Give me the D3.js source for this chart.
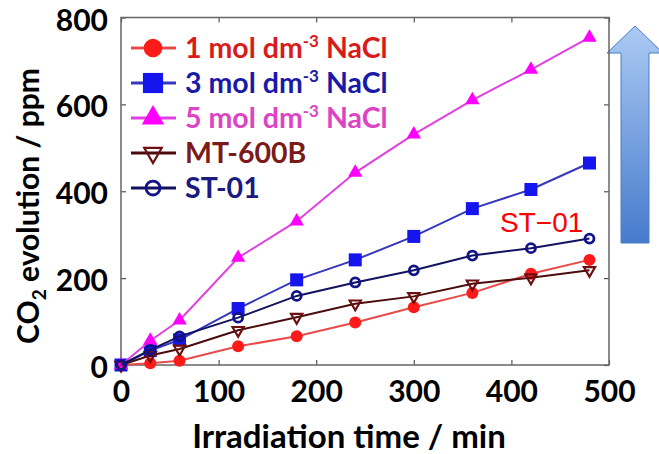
<!DOCTYPE html>
<html>
<head>
<meta charset="utf-8">
<script src="https://cdn.jsdelivr.net/npm/d3@7"></script>
<style>
  body { margin: 0; background: #fff; }
  text { font-family: Lato, "Open Sans", sans-serif; }
</style>
</head>
<body>
<div id="chart"></div>
<script>

// data
var times = [0, 30, 60, 120, 180, 240, 300, 360, 420, 480];
var nacl1 = [0, 4, 10, 43, 66, 98, 133, 166, 210, 242];
var nacl3 = [0, 33, 58, 130, 196, 242, 296, 360, 404, 465];
var nacl5 = [0, 56, 103, 247, 331, 443, 531, 610, 680, 754];
var mt600b = [0, 22, 37, 80, 110, 141, 158, 187, 201, 218];
var st01 = [0, 35, 66, 109, 159, 190, 218, 252, 269, 291];
var xTicks = [0, 100, 200, 300, 400, 500];
var yTicks = [0, 200, 400, 600, 800];

var series = [
    { name: "1 mol dm", sup: "-3", tail: " NaCl", values: nacl1, line: "#e84a4a", fill: "#ff1a1a", text: "#d81c1c", shape: "circle" },
    { name: "3 mol dm", sup: "-3", tail: " NaCl", values: nacl3, line: "#3636c0", fill: "#1515ee", text: "#1a1aa8", shape: "square" },
    { name: "5 mol dm", sup: "-3", tail: " NaCl", values: nacl5, line: "#e040e0", fill: "#ff00ff", text: "#dc44c4", shape: "triangle" },
    { name: "MT-600B", sup: "", tail: "", values: mt600b, line: "#4a0c0c", fill: "none", stroke: "#6e0f0f", text: "#7a1a1a", shape: "triangleDown" },
    { name: "ST-01", sup: "", tail: "", values: st01, line: "#121260", fill: "none", stroke: "#12128a", text: "#1a1a80", shape: "ring" }
];

// set the dimensions and margins of the graph
var margin = { top: 17.5, right: 50, bottom: 89, left: 121 },
    width = 659 - margin.left - margin.right,
    height = 454 - margin.top - margin.bottom;

var root = d3.select("#chart")
    .append("svg")
    .attr("width", 659)
    .attr("height", 454);

// blue arrow on the right
var defs = root.append("defs");
var grad = defs.append("linearGradient")
    .attr("id", "arrowGrad")
    .attr("x1", 0).attr("y1", 0).attr("x2", 0).attr("y2", 1);
grad.append("stop").attr("offset", "0%").attr("stop-color", "#abcaf3");
grad.append("stop").attr("offset", "100%").attr("stop-color", "#477bcc");

root.append("path")
    .attr("d", "M635,26 L663,53 L649,53 L649,243 L621,243 L621,53 L607,53 Z")
    .attr("fill", "url(#arrowGrad)")
    .attr("stroke", "#4a7cc8")
    .attr("stroke-width", 1);

var svg = root.append("g")
    .attr("transform", "translate(" + margin.left + "," + margin.top + ")");

var x = d3.scaleLinear()
    .domain([0, 500])
    .range([0, width]);

var y = d3.scaleLinear()
    .domain([0, 800])
    .range([height, 0]);

// axes with inward ticks
var xAxis = svg.append("g")
    .attr("transform", "translate(0," + height + ")")
    .call(d3.axisBottom(x).tickValues(xTicks).tickSizeInner(-5).tickSizeOuter(0).tickPadding(16));
var yAxis = svg.append("g")
    .call(d3.axisLeft(y).tickValues(yTicks).tickSizeInner(-5).tickSizeOuter(0).tickPadding(13));
svg.append("g")
    .call(d3.axisTop(x).tickValues(xTicks).tickSizeInner(-5).tickSizeOuter(0).tickFormat(""));
svg.append("g")
    .attr("transform", "translate(" + width + ",0)")
    .call(d3.axisRight(y).tickValues(yTicks).tickSizeInner(-5).tickSizeOuter(0).tickFormat(""));

svg.selectAll(".domain").remove();
svg.selectAll(".tick line").attr("stroke", "#555").attr("stroke-width", 1.2);

xAxis.selectAll("text")
    .style("font-size", "30px")
    .style("font-weight", "bold")
    .attr("fill", "#000");
yAxis.selectAll("text")
    .style("font-size", "30px")
    .style("font-weight", "bold")
    .attr("fill", "#000")
    .attr("dy", "0.42em");

// frame
svg.append("rect")
    .attr("width", width)
    .attr("height", height)
    .attr("fill", "none")
    .attr("stroke", "#666")
    .attr("stroke-width", 1.5);

// axis titles
root.append("text")
    .attr("x", 349)
    .attr("y", 448)
    .attr("text-anchor", "middle")
    .style("font-size", "33px")
    .style("font-weight", "bold")
    .attr("fill", "#000")
    .text("Irradiation time / min");

var yl = root.append("text")
    .attr("transform", "translate(39,206) rotate(-90)")
    .attr("text-anchor", "middle")
    .style("font-size", "30px")
    .style("font-weight", "bold")
    .attr("fill", "#000");
yl.append("tspan").text("CO");
yl.append("tspan").attr("dy", 7).style("font-size", "19px").text("2");
yl.append("tspan").attr("dy", -7).text(" evolution / ppm");

// marker drawing helper
function drawMarker(g, shape, s, d) {
    var m;
    if (shape == "circle") {
        m = g.append("circle").attr("r", 6 * s);
    } else if (shape == "square") {
        m = g.append("rect").attr("x", -6.5 * s).attr("y", -6.5 * s).attr("width", 13 * s).attr("height", 13 * s);
    } else if (shape == "triangle") {
        m = g.append("path").attr("d", d3.symbol(d3.symbolTriangle, 90 * s * s)());
    } else if (shape == "triangleDown") {
        m = g.append("path").attr("d", d3.symbol(d3.symbolTriangle, 55 * s * s)()).attr("transform", "rotate(180)");
    } else {
        m = g.append("circle").attr("r", 4.5 * s);
    }
    m.attr("fill", d.fill)
        .attr("stroke", d.stroke || "none")
        .attr("stroke-width", d.stroke ? (shape == "ring" ? 2.8 : 2.2) : 0);
}

var line = d3.line()
    .x(function(d, i) { return x(times[i]); })
    .y(function(d) { return y(d); });

series.forEach(function(d) {
    svg.append("path")
        .datum(d.values)
        .attr("fill", "none")
        .attr("stroke", d.line)
        .attr("stroke-width", 2)
        .attr("d", line);
    d.values.forEach(function(v, i) {
        var g = svg.append("g").attr("transform", "translate(" + x(times[i]) + "," + y(v) + ")");
        drawMarker(g, d.shape, 1, d);
    });
});

// red label
root.append("text")
    .attr("x", 500)
    .attr("y", 232)
    .style("font-family", "Arial, 'Liberation Sans', sans-serif")
    .style("font-size", "28px")
    .attr("fill", "#ff0000")
    .text("ST\u221201");

// legend
var legendY = [48, 83, 118, 153, 188];
var legend = root.selectAll(".leg")
    .data(series)
    .enter()
    .append("g")
    .attr("class", "leg")
    .attr("transform", function(d, i) { return "translate(0," + legendY[i] + ")"; });

legend.append("line")
    .attr("x1", 131).attr("x2", 176)
    .attr("stroke", function(d) { return d.line; })
    .attr("stroke-width", 3);

legend.each(function(d) {
    var g = d3.select(this).append("g").attr("transform", "translate(153,0)");
    drawMarker(g, d.shape, 1.55, d);
});

var lt = legend.append("text")
    .attr("x", 185)
    .attr("y", 10)
    .style("font-size", "28.5px")
    .style("font-weight", "bold")
    .attr("fill", function(d) { return d.text; });
lt.append("tspan").text(function(d) { return d.name; });
lt.append("tspan").attr("dy", -11).style("font-size", "17px").text(function(d) { return d.sup; });
lt.append("tspan").attr("dy", 11).text(function(d) { return d.tail; });

</script>
</body>
</html>
